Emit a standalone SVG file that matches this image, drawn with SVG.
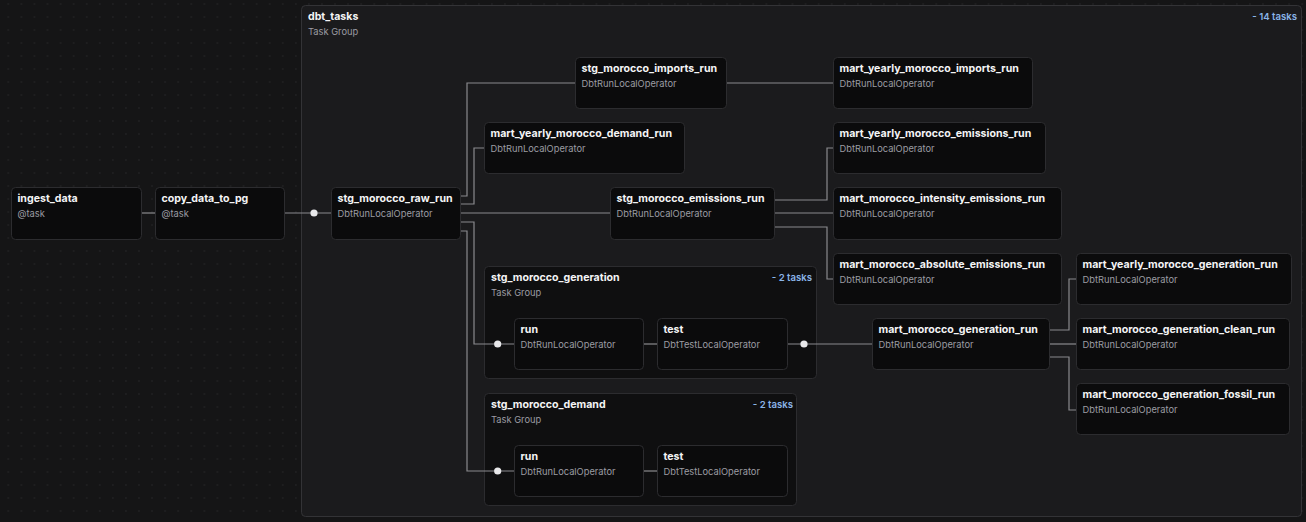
<svg xmlns="http://www.w3.org/2000/svg" width="1306" height="522" viewBox="0 0 1306 522">
<defs>
<pattern id="grid" x="1.8" y="-2.5" width="13.07" height="13" patternUnits="userSpaceOnUse">
<rect x="6" y="6" width="1" height="1" fill="#353537"/>
</pattern>
<style>
.node{fill:#0b0b0c;stroke:#2c2c2f;stroke-width:1}
.grp{fill:#0f0f10;stroke:#2c2c2f;stroke-width:1}
.outer{fill:#1b1b1d;stroke:#333336;stroke-width:1}
.t{font-family:Inter,"Liberation Sans",sans-serif;font-weight:700;font-size:10.6px;fill:#f4f4f5}
.s{font-family:Inter,"Liberation Sans",sans-serif;font-size:9.3px;fill:#9c9ca3}
.c{font-family:Inter,"Liberation Sans",sans-serif;font-weight:600;font-size:9.6px;fill:#8ab4e8;text-anchor:end}
.e{fill:none;stroke:#8a8a8e;stroke-width:1.2}
.d{fill:#e8e8ea}
</style>
</defs>
<rect width="1306" height="522" fill="#151516"/>
<rect width="1306" height="522" fill="url(#grid)"/>

<g id="dbt_tasks">
<rect class="outer" x="301.5" y="5.5" width="1000" height="511" rx="4"/>
<text class="t" x="308" y="20">dbt_tasks</text>
<text class="s" x="308" y="35">Task Group</text>
<text class="c" x="1297" y="20">- 14 tasks</text>
</g>

<g id="stg_morocco_generation">
<rect class="grp" x="484.5" y="266.5" width="332" height="112" rx="4"/>
<text class="t" x="491" y="281">stg_morocco_generation</text>
<text class="s" x="491" y="296">Task Group</text>
<text class="c" x="812" y="281">- 2 tasks</text>
</g>

<g id="stg_morocco_demand">
<rect class="grp" x="484.5" y="393.5" width="312" height="112" rx="4"/>
<text class="t" x="491" y="408">stg_morocco_demand</text>
<text class="s" x="491" y="423">Task Group</text>
<text class="c" x="793" y="408">- 2 tasks</text>
</g>

<g id="edges">
<path class="e" d="M141.5 213H155.5"/>
<path class="e" d="M284.5 213H331.5"/>
<path class="e" d="M460.5 196H467V83H575.5"/>
<path class="e" d="M460.5 204H474V148H484.5"/>
<path class="e" d="M460.5 213H610.5"/>
<path class="e" d="M460.5 222H474V344H514.5"/>
<path class="e" d="M460.5 231H467V471H514.5"/>
<path class="e" d="M726.5 83H833.5"/>
<path class="e" d="M774.5 200H827V148H833.5"/>
<path class="e" d="M774.5 213H833.5"/>
<path class="e" d="M774.5 227H827V279H833.5"/>
<path class="e" d="M643.5 344H657.5"/>
<path class="e" d="M643.5 471H657.5"/>
<path class="e" d="M787.5 344H872.5"/>
<path class="e" d="M1049.5 330H1069V279H1076.5"/>
<path class="e" d="M1049.5 344H1076.5"/>
<path class="e" d="M1049.5 357H1069V410H1076.5"/>
<circle class="d" cx="314" cy="213" r="3.6"/>
<circle class="d" cx="497.7" cy="344" r="3.6"/>
<circle class="d" cx="497.7" cy="471" r="3.6"/>
<circle class="d" cx="804" cy="344" r="3.6"/>
</g>

<g id="ingest_data">
<rect class="node" x="11.5" y="187.5" width="130" height="52" rx="4"/>
<text class="t" x="17.5" y="202">ingest_data</text>
<text class="s" x="17.5" y="217">@task</text>
</g>
<g id="copy_data_to_pg">
<rect class="node" x="155.5" y="187.5" width="129" height="52" rx="4"/>
<text class="t" x="161.5" y="202">copy_data_to_pg</text>
<text class="s" x="161.5" y="217">@task</text>
</g>
<g id="stg_morocco_raw_run">
<rect class="node" x="331.5" y="187.5" width="129" height="52" rx="4"/>
<text class="t" x="337.5" y="202">stg_morocco_raw_run</text>
<text class="s" x="337.5" y="217">DbtRunLocalOperator</text>
</g>
<g id="stg_morocco_imports_run">
<rect class="node" x="575.5" y="57.5" width="151" height="51" rx="4"/>
<text class="t" x="581.5" y="72">stg_morocco_imports_run</text>
<text class="s" x="581.5" y="87">DbtRunLocalOperator</text>
</g>
<g id="mart_yearly_morocco_demand_run">
<rect class="node" x="484.5" y="122.5" width="200" height="51" rx="4"/>
<text class="t" x="490.5" y="137">mart_yearly_morocco_demand_run</text>
<text class="s" x="490.5" y="152">DbtRunLocalOperator</text>
</g>
<g id="stg_morocco_emissions_run">
<rect class="node" x="610.5" y="187.5" width="164" height="52" rx="4"/>
<text class="t" x="616.5" y="202">stg_morocco_emissions_run</text>
<text class="s" x="616.5" y="217">DbtRunLocalOperator</text>
</g>
<g id="mart_yearly_morocco_imports_run">
<rect class="node" x="833.5" y="57.5" width="199" height="51" rx="4"/>
<text class="t" x="839.5" y="72">mart_yearly_morocco_imports_run</text>
<text class="s" x="839.5" y="87">DbtRunLocalOperator</text>
</g>
<g id="mart_yearly_morocco_emissions_run">
<rect class="node" x="833.5" y="122.5" width="212" height="51" rx="4"/>
<text class="t" x="839.5" y="137">mart_yearly_morocco_emissions_run</text>
<text class="s" x="839.5" y="152">DbtRunLocalOperator</text>
</g>
<g id="mart_morocco_intensity_emissions_run">
<rect class="node" x="833.5" y="187.5" width="228" height="52" rx="4"/>
<text class="t" x="839.5" y="202">mart_morocco_intensity_emissions_run</text>
<text class="s" x="839.5" y="217">DbtRunLocalOperator</text>
</g>
<g id="mart_morocco_absolute_emissions_run">
<rect class="node" x="833.5" y="253.5" width="228" height="51" rx="4"/>
<text class="t" x="839.5" y="268">mart_morocco_absolute_emissions_run</text>
<text class="s" x="839.5" y="283">DbtRunLocalOperator</text>
</g>
<g id="stg_morocco_generation_run">
<rect class="node" x="514.5" y="318.5" width="129" height="51" rx="4"/>
<text class="t" x="520.5" y="333">run</text>
<text class="s" x="520.5" y="348">DbtRunLocalOperator</text>
</g>
<g id="stg_morocco_generation_test">
<rect class="node" x="657.5" y="318.5" width="130" height="51" rx="4"/>
<text class="t" x="663.5" y="333">test</text>
<text class="s" x="663.5" y="348">DbtTestLocalOperator</text>
</g>
<g id="stg_morocco_demand_run">
<rect class="node" x="514.5" y="445.5" width="129" height="51" rx="4"/>
<text class="t" x="520.5" y="460">run</text>
<text class="s" x="520.5" y="475">DbtRunLocalOperator</text>
</g>
<g id="stg_morocco_demand_test">
<rect class="node" x="657.5" y="445.5" width="130" height="51" rx="4"/>
<text class="t" x="663.5" y="460">test</text>
<text class="s" x="663.5" y="475">DbtTestLocalOperator</text>
</g>
<g id="mart_morocco_generation_run">
<rect class="node" x="872.5" y="318.5" width="177" height="51" rx="4"/>
<text class="t" x="878.5" y="333">mart_morocco_generation_run</text>
<text class="s" x="878.5" y="348">DbtRunLocalOperator</text>
</g>
<g id="mart_yearly_morocco_generation_run">
<rect class="node" x="1076.5" y="253.5" width="215" height="51" rx="4"/>
<text class="t" x="1082.5" y="268">mart_yearly_morocco_generation_run</text>
<text class="s" x="1082.5" y="283">DbtRunLocalOperator</text>
</g>
<g id="mart_morocco_generation_clean_run">
<rect class="node" x="1076.5" y="318.5" width="213" height="51" rx="4"/>
<text class="t" x="1082.5" y="333">mart_morocco_generation_clean_run</text>
<text class="s" x="1082.5" y="348">DbtRunLocalOperator</text>
</g>
<g id="mart_morocco_generation_fossil_run">
<rect class="node" x="1076.5" y="383.5" width="213" height="51" rx="4"/>
<text class="t" x="1082.5" y="398">mart_morocco_generation_fossil_run</text>
<text class="s" x="1082.5" y="413">DbtRunLocalOperator</text>
</g>
</svg>
